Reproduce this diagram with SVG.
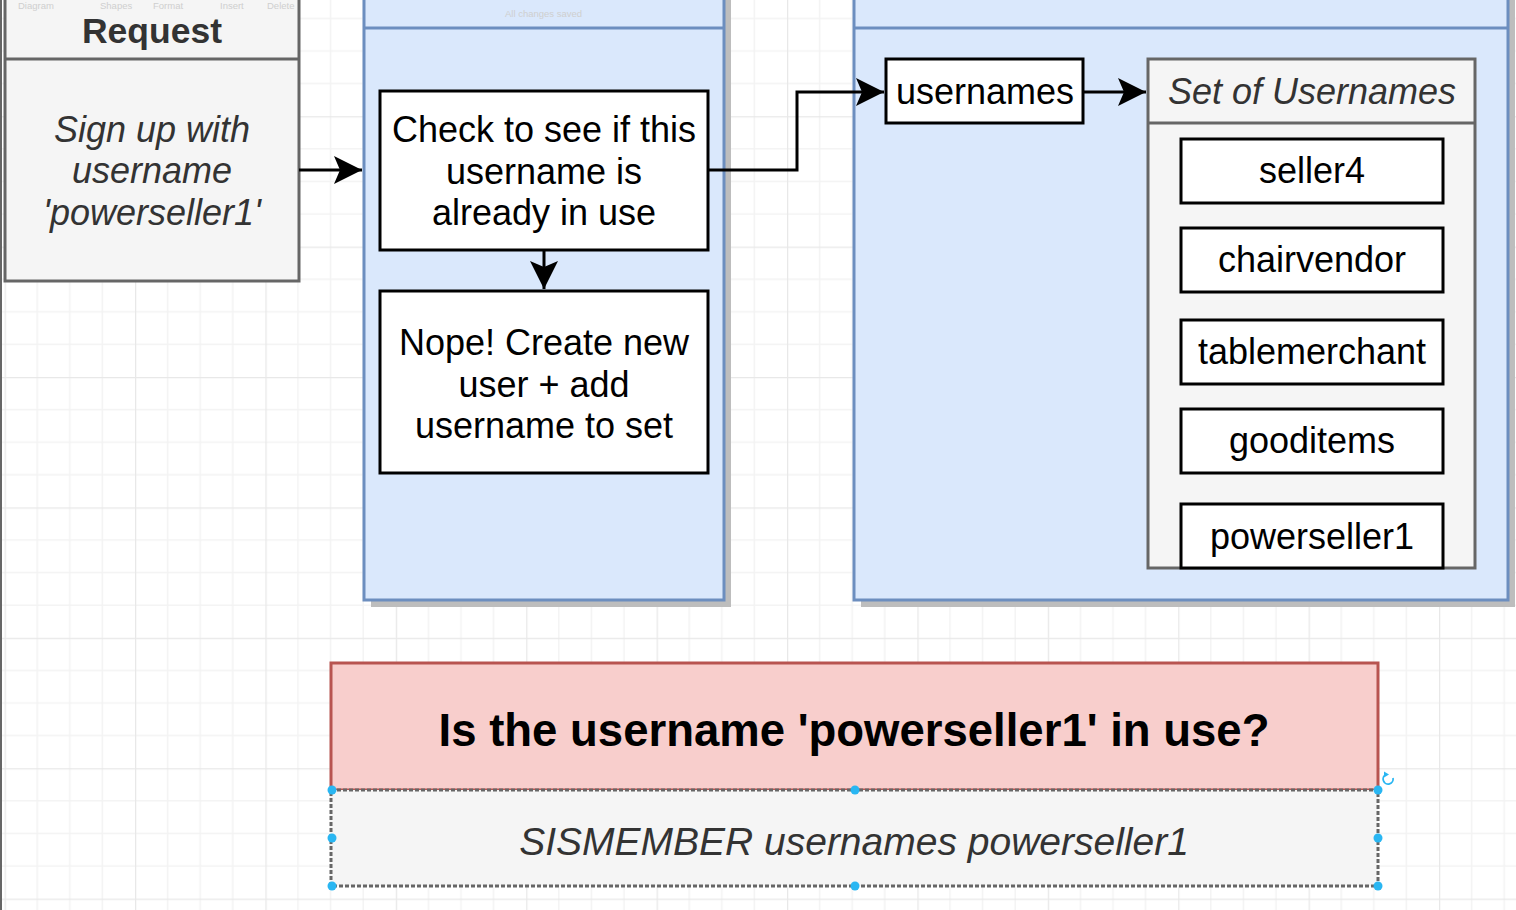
<svg xmlns="http://www.w3.org/2000/svg" width="1516" height="910" viewBox="0 0 1516 910">
<style>
text{font-family:"Liberation Sans",Arial,Helvetica,sans-serif}
.t{font-size:36px;fill:#000;text-anchor:middle}
.ti{font-size:36px;fill:#333;text-anchor:middle;font-style:italic}
.box{fill:#fff;stroke:#000;stroke-width:3}
.gray{fill:#f5f5f5;stroke:#666;stroke-width:3}
.lane{fill:#dae8fc;stroke:#6c8ebf;stroke-width:3}
.shadow{fill:#bdbdbd}
.conn{fill:none;stroke:#000;stroke-width:3}
.tb{font-size:9.5px;fill:#cfcfcf}
.h{fill:#29b6f2}
</style>
<defs>
<pattern id="grid" patternUnits="userSpaceOnUse" x="4.6" y="-14.2" width="130.4" height="130.4">
<path d="M32.6 0V130.4M65.2 0V130.4M97.8 0V130.4M0 32.6H130.4M0 65.2H130.4M0 97.8H130.4" stroke="#f3f3f3" stroke-width="1.5" fill="none"/>
<path d="M0.5 0V130.4M0 0.5H130.4" stroke="#e8e8e8" stroke-width="1.5" fill="none"/>
</pattern>
<marker id="arr" markerUnits="userSpaceOnUse" markerWidth="30" markerHeight="30" viewBox="0 0 30 30" refX="28" refY="15" orient="auto">
<path d="M28 15L0 1L6 15L0 29Z" fill="#000"/>
</marker>
</defs>
<rect width="1516" height="910" fill="#fff"/>
<rect width="1516" height="910" fill="url(#grid)"/>
<line x1="1" y1="0" x2="1" y2="910" stroke="#666" stroke-width="2"/>

<g id="lane-app">
<rect class="shadow" x="371" y="-10" width="360" height="617"/>
<rect class="lane" x="364" y="-20" width="360" height="620"/>
<line x1="364" y1="28" x2="724" y2="28" stroke="#6c8ebf" stroke-width="3"/>
</g>
<g id="lane-redis">
<rect class="shadow" x="861" y="-10" width="654" height="617"/>
<rect class="lane" x="854" y="-20" width="654" height="620"/>
<line x1="854" y1="28" x2="1508" y2="28" stroke="#6c8ebf" stroke-width="3"/>
</g>

<g id="request">
<rect class="gray" x="5" y="-20" width="294" height="301"/>
<line x1="5" y1="59" x2="299" y2="59" stroke="#666" stroke-width="3"/>
<text x="152" y="42.5" text-anchor="middle" font-size="35.5" font-weight="bold" fill="#333">Request</text>
<text class="ti" x="152" y="142">Sign up with</text>
<text class="ti" x="152" y="183">username</text>
<text class="ti" x="152" y="225">'powerseller1'</text>
</g>

<g id="check">
<rect class="box" x="380" y="91" width="328" height="159"/>
<text class="t" x="544" y="142">Check to see if this</text>
<text class="t" x="544" y="184">username is</text>
<text class="t" x="544" y="225">already in use</text>
</g>

<g id="nope">
<rect class="box" x="380" y="291" width="328" height="182"/>
<text class="t" x="544" y="355">Nope! Create new</text>
<text class="t" x="544" y="397">user + add</text>
<text class="t" x="544" y="438">username to set</text>
</g>

<g id="usernames">
<rect class="box" x="886" y="59" width="197" height="64"/>
<text class="t" x="985" y="104">usernames</text>
</g>

<g id="set">
<rect class="gray" x="1148" y="59" width="327" height="509"/>
<line x1="1148" y1="123" x2="1475" y2="123" stroke="#666" stroke-width="3"/>
<text class="ti" x="1312" y="104">Set of Usernames</text>
</g>
<g id="seller4"><rect class="box" x="1181" y="139" width="262" height="64"/><text class="t" x="1312" y="183">seller4</text></g>
<g id="chairvendor"><rect class="box" x="1181" y="228" width="262" height="64"/><text class="t" x="1312" y="272">chairvendor</text></g>
<g id="tablemerchant"><rect class="box" x="1181" y="320" width="262" height="64"/><text class="t" x="1312" y="364">tablemerchant</text></g>
<g id="gooditems"><rect class="box" x="1181" y="409" width="262" height="64"/><text class="t" x="1312" y="453">gooditems</text></g>
<g id="powerseller1"><rect class="box" x="1181" y="504" width="262" height="64"/><text class="t" x="1312" y="549">powerseller1</text></g>

<g id="question">
<rect x="331" y="663" width="1047" height="127" fill="#f8cecc" stroke="#b85450" stroke-width="3"/>
<text x="854" y="746" text-anchor="middle" font-size="45.5" font-weight="bold" fill="#000">Is the username 'powerseller1' in use?</text>
</g>
<g id="command">
<rect x="331" y="790" width="1047" height="96" fill="#f5f5f5" stroke="#666" stroke-width="3" stroke-dasharray="4 2"/>
<text x="854" y="855" text-anchor="middle" font-size="39" font-style="italic" fill="#333">SISMEMBER usernames powerseller1</text>
</g>
<g id="selection">
<circle class="h" cx="332" cy="790" r="4.5"/><circle class="h" cx="855" cy="790" r="4.5"/><circle class="h" cx="1378" cy="790" r="4.5"/>
<circle class="h" cx="332" cy="838" r="4.5"/><circle class="h" cx="1378" cy="838" r="4.5"/>
<circle class="h" cx="332" cy="886" r="4.5"/><circle class="h" cx="855" cy="886" r="4.5"/><circle class="h" cx="1378" cy="886" r="4.5"/>
<path d="M1393 778A5 5 0 1 1 1386 774.5" fill="none" stroke="#29b6f2" stroke-width="1.8"/>
<path d="M1384 771.5L1389 774.5L1384 777.5Z" fill="#29b6f2"/>
</g>

<g id="connectors">
<path class="conn" d="M299 170H362" marker-end="url(#arr)"/>
<path class="conn" d="M544 250V289" marker-end="url(#arr)"/>
<path class="conn" d="M708 170H797V92H884" marker-end="url(#arr)"/>
<path class="conn" d="M1083 92H1146" marker-end="url(#arr)"/>
</g>

<g id="toolbar">
<text class="tb" x="18" y="8.5">Diagram</text>
<text class="tb" x="100" y="8.5">Shapes</text>
<text class="tb" x="153" y="8.5">Format</text>
<text class="tb" x="220" y="8.5">Insert</text>
<text class="tb" x="267" y="8.5">Delete</text>
<text class="tb" x="505" y="17">All changes saved</text>
</g>
</svg>
